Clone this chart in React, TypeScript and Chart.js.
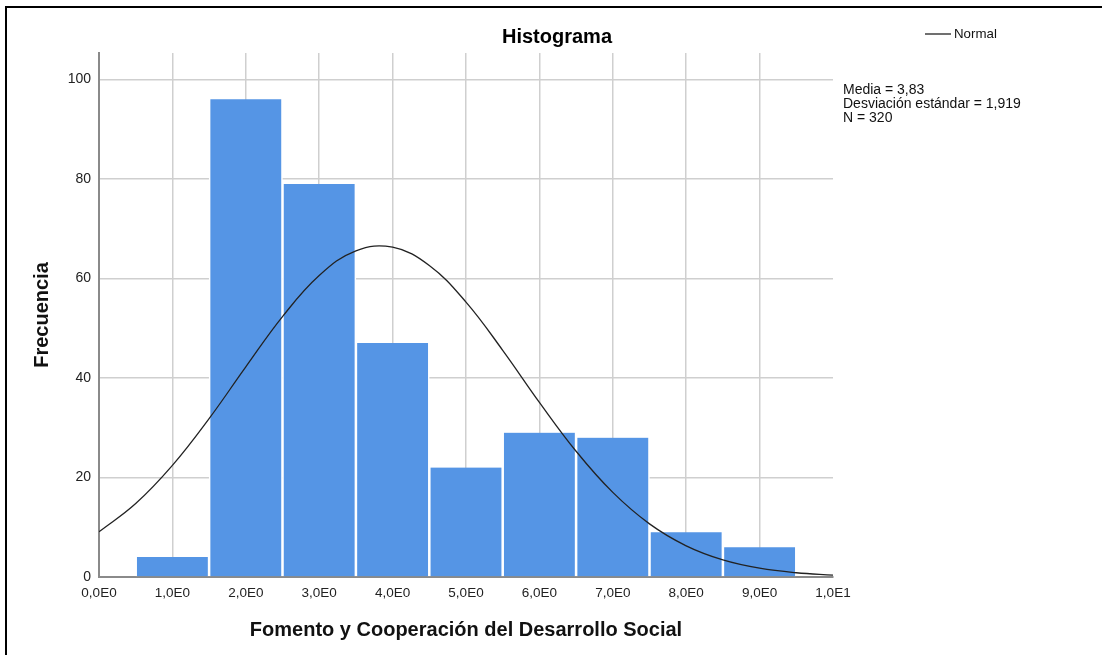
import React, { useEffect, useRef } from "react";
import { Chart, registerables } from "chart.js";

Chart.register(...registerables);

const binCenters = [1, 2, 3, 4, 5, 6, 7, 8, 9];
const frequencies = [4, 96, 79, 47, 22, 29, 28, 9, 6];

const normalX = [0, 0.5, 1, 1.5, 2, 2.5, 3, 3.5, 4, 4.5, 5, 5.5, 6, 6.5, 7, 7.5, 8, 8.5, 9, 9.5, 10];
const normalY = [9.08, 14.76, 22.43, 31.83, 42.23, 52.33, 60.59, 65.55, 66.27, 62.6, 55.25, 45.56, 35.1, 25.27, 17.0, 10.68, 6.27, 3.44, 1.77, 0.85, 0.38];

const xTickLabels = ["0,0E0", "1,0E0", "2,0E0", "3,0E0", "4,0E0", "5,0E0", "6,0E0", "7,0E0", "8,0E0", "9,0E0", "1,0E1"];
const yTickValues = [0, 20, 40, 60, 80, 100];

const chartTitle = "Histograma";
const legendLabel = "Normal";
const statsLines = ["Media = 3,83", "Desviación estándar = 1,919", "N = 320"];
const xTitle = "Fomento y Cooperación del Desarrollo Social";
const yTitle = "Frecuencia";

const FONT = "'Liberation Sans', Arial, sans-serif";

export default function App() {
  const ref = useRef<HTMLCanvasElement | null>(null);

  useEffect(() => {
    if (!ref.current) return;
    const overlay = {
      id: "overlay",
      afterDraw(chart: any) {
        const ctx = chart.ctx;
        ctx.save();
        ctx.fillStyle = "#000";
        ctx.font = `bold 20px ${FONT}`;
        ctx.textAlign = "center";
        ctx.textBaseline = "middle";
        ctx.fillText(chartTitle, 557, 37);
        // legend
        ctx.strokeStyle = "#222";
        ctx.lineWidth = 1.3;
        ctx.beginPath();
        ctx.moveTo(925, 34);
        ctx.lineTo(951, 34);
        ctx.stroke();
        ctx.font = `13.3px ${FONT}`;
        ctx.textAlign = "left";
        ctx.fillStyle = "#111";
        ctx.fillText(legendLabel, 954, 34.5);
        // stats
        ctx.font = `14px ${FONT}`;
        ctx.textBaseline = "alphabetic";
        statsLines.forEach((s, i) => ctx.fillText(s, 843, 94 + i * 14));
        ctx.restore();
      },
    };

    const chart = new Chart(ref.current, {
      type: "bar",
      data: {
        datasets: [
          {
            type: "line",
            label: legendLabel,
            data: normalX.map((x, i) => ({ x, y: normalY[i] })),
            borderColor: "#222",
            borderWidth: 1.3,
            pointRadius: 0,
            tension: 0.4,
            fill: false,
            order: 0,
          } as any,
          {
            type: "bar",
            label: "Frecuencia",
            data: binCenters.map((x, i) => ({ x, y: frequencies[i] })),
            backgroundColor: "#5595E5",
            borderColor: "#ffffff",
            borderWidth: { left: 1.6, right: 1.6, top: 0, bottom: 0 },
            borderSkipped: false,
            barPercentage: 1,
            categoryPercentage: 1,
            order: 1,
          } as any,
        ],
      },
      options: {
        animation: false,
        responsive: false,
        maintainAspectRatio: false,
        layout: { padding: { left: 30, top: 53, right: 269, bottom: 13 } },
        plugins: {
          legend: { display: false },
          title: { display: false },
          tooltip: { enabled: false },
        },
        scales: {
          x: {
            type: "linear",
            min: 0,
            max: 10,
            offset: false,
            ticks: {
              stepSize: 1,
              autoSkip: false,
              maxRotation: 0,
              padding: 8,
              color: "#222",
              font: { family: FONT, size: 13.5 },
              callback: (_v: any, i: number) => xTickLabels[i],
            },
            grid: {
              offset: false,
              drawTicks: false,
              lineWidth: 1.5,
              color: (c: any) => (c.tick && c.tick.value === 10 ? "rgba(0,0,0,0)" : "#cfcfcf"),
            },
            border: { color: "#8a8a8a", width: 2 },
            title: {
              display: true,
              text: xTitle,
              color: "#111",
              padding: 0,
              font: { family: FONT, size: 20, weight: "bold" },
            },
            afterFit: (s: any) => {
              s.height = 65;
            },
          } as any,
          y: {
            type: "linear",
            min: 0,
            max: 105.3,
            afterBuildTicks: (s: any) => {
              s.ticks = yTickValues.map((v) => ({ value: v }));
            },
            ticks: {
              padding: 8,
              color: "#222",
              font: { family: FONT, size: 14 },
            },
            grid: {
              drawTicks: false,
              lineWidth: 1.5,
              color: "#cfcfcf",
            },
            border: { color: "#8a8a8a", width: 2 },
            title: {
              display: true,
              text: yTitle,
              color: "#111",
              padding: 0,
              font: { family: FONT, size: 20, weight: "bold" },
            },
            afterFit: (s: any) => {
              s.width = 69;
            },
          } as any,
        },
      },
      plugins: [overlay],
    });
    return () => chart.destroy();
  }, []);

  return (
    <div style={{ position: "absolute", left: 0, top: 0, width: 1102, height: 655, background: "#fff" }}>
      <div
        style={{
          position: "absolute",
          left: 5,
          top: 6,
          width: 1097,
          height: 649,
          borderTop: "2px solid #000",
          borderLeft: "2px solid #000",
          boxSizing: "border-box",
        }}
      />
      <canvas ref={ref} width={1102} height={655} style={{ position: "absolute", left: 0, top: 0 }} />
    </div>
  );
}
